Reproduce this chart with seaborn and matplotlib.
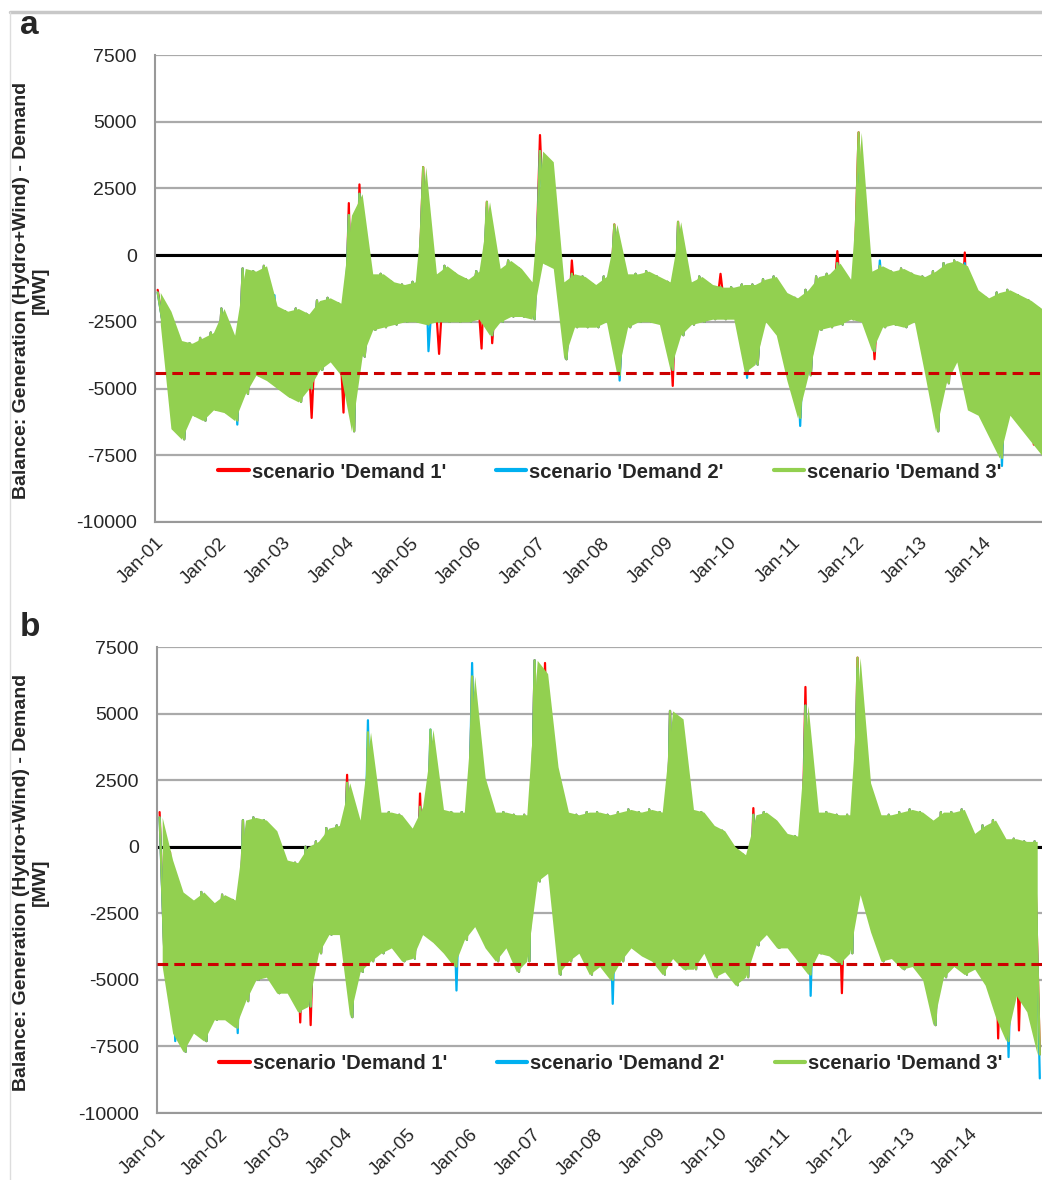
import numpy as np
import pandas as pd
import seaborn as sns
import matplotlib.pyplot as plt
from matplotlib.lines import Line2D

# Categories / labels
days = ['Jan-%02d' % d for d in range(1, 15)]
scenarios = ["scenario 'Demand 1'", "scenario 'Demand 2'", "scenario 'Demand 3'"]
colors = ['#ff0000', '#00b0f0', '#92d050']
threshold = -4420  # dashed red reference level [MW]

# Panel a: 4-hour envelopes (max / min within each block), MW
a_red_hi = [
    -1300, -2100, -3200, -3300, -3100, -2900,
    -2000, -3000, -500, -600, -400, -1900,
    -2100, -2000, -2200, -1700, -1600, -1800,
    1950, 2650, -700, -700, -1000, -1100,
    -1000, 3300, -700, -400, -700, -900,
    -600, 2000, -500, -200, -500, -1000,
    4500, 3500, -1000, -200, -800, -1100,
    -800, 1150, -700, -700, -600, -800,
    -1000, 1250, -1000, -800, -1100, -700,
    -1200, -1100, -1100, -900, -800, -1400,
    -1600, -1300, -800, -700, 150, -900,
    4600, -600, -400, -600, -500, -700,
    -800, -600, -300, -200, 100, -1300,
    -1600, -1400, -1300, -1500, -1700, -2000,
]
a_red_lo = [
    -2600, -6500, -6900, -6000, -6200, -5800,
    -5900, -6200, -5200, -4500, -4700, -5000,
    -5300, -5500, -6100, -4300, -4000, -5900,
    -6600, -3800, -2800, -2700, -2600, -2500,
    -2500, -2600, -3700, -2500, -2500, -2500,
    -3500, -3300, -2500, -2300, -2300, -2400,
    -300, -500, -3900, -2700, -2700, -2700,
    -2500, -4500, -2700, -2500, -2500, -2600,
    -4900, -3000, -2600, -2500, -2400, -2400,
    -2400, -4400, -4100, -2500, -3000, -4700,
    -6100, -4500, -2800, -2700, -2600, -2400,
    -2500, -3900, -2700, -2600, -2700, -2500,
    -4500, -6600, -4800, -4000, -5800, -6000,
    -6800, -7600, -6000, -6500, -7100, -7500,
]
a_blue_hi = [
    -1400, -2100, -3200, -3300, -3100, -2900,
    -2000, -3000, -500, -600, -400, -1500,
    -2100, -2000, -2200, -1700, -1600, -1800,
    1500, 2300, -700, -700, -1000, -1100,
    -1000, 3000, -700, -400, -700, -900,
    -600, 1800, -500, -200, -500, -1000,
    3900, 3500, -1000, -700, -800, -1100,
    -800, 1000, -700, -700, -600, -800,
    -1000, 1100, -1000, -800, -1100, -1200,
    -1200, -1100, -1100, -900, -800, -1400,
    -1600, -1300, -800, -700, -300, -900,
    3600, -600, -200, -600, -500, -700,
    -800, -600, -300, -200, -300, -1300,
    -1600, -1400, -1300, -1500, -1700, -2000,
]
a_blue_lo = [
    -2600, -6500, -6900, -6000, -6200, -5800,
    -5900, -6350, -5200, -4500, -4700, -5000,
    -5300, -5500, -5000, -4300, -4000, -4500,
    -6600, -3800, -2800, -2700, -2600, -2500,
    -2500, -3600, -2500, -2500, -2500, -2500,
    -2400, -3000, -2500, -2300, -2300, -2400,
    -300, -500, -3900, -2700, -2700, -2700,
    -2500, -4700, -2700, -2500, -2500, -2600,
    -4300, -3000, -2600, -2500, -2400, -2400,
    -2400, -4600, -4100, -2500, -3000, -4700,
    -6400, -4500, -2800, -2700, -2600, -2400,
    -2500, -3600, -2700, -2600, -2700, -2500,
    -4500, -6600, -4800, -4000, -5800, -6000,
    -6800, -7900, -6000, -6500, -7000, -8100,
]
a_green_hi = [
    -1400, -2100, -3200, -3300, -3100, -2900,
    -2000, -3000, -500, -600, -400, -1900,
    -2100, -2000, -2200, -1700, -1600, -1800,
    1500, 2300, -700, -700, -1000, -1100,
    -1000, 3300, -700, -400, -700, -900,
    -600, 2000, -500, -200, -500, -1000,
    3900, 3500, -1000, -700, -800, -1100,
    -800, 1150, -700, -700, -600, -800,
    -1000, 1250, -1000, -800, -1100, -1200,
    -1200, -1100, -1100, -900, -800, -1400,
    -1600, -1300, -800, -700, -300, -900,
    4600, -600, -400, -600, -500, -700,
    -800, -600, -300, -200, -400, -1300,
    -1600, -1400, -1300, -1500, -1700, -2000,
]
a_green_lo = [
    -2600, -6500, -6900, -6000, -6200, -5800,
    -5900, -6200, -5200, -4500, -4700, -5000,
    -5300, -5500, -5000, -4300, -4000, -4500,
    -6600, -3800, -2800, -2700, -2600, -2500,
    -2500, -2600, -2500, -2500, -2500, -2500,
    -2400, -3000, -2500, -2300, -2300, -2400,
    -300, -500, -3900, -2700, -2700, -2700,
    -2500, -4500, -2700, -2500, -2500, -2600,
    -4300, -3000, -2600, -2500, -2400, -2400,
    -2400, -4400, -4100, -2500, -3000, -4700,
    -6100, -4500, -2800, -2700, -2600, -2400,
    -2500, -3600, -2700, -2600, -2700, -2500,
    -4500, -6600, -4800, -4000, -5800, -6000,
    -6800, -7600, -6000, -6500, -7000, -7500,
]

# Panel b
b_red_hi = [
    1300, -200, -1700, -2000, -1700, -2100,
    -1800, -2000, 1000, 1100, 1000, 600,
    -500, -600, 0, 200, 700, 800,
    2700, 1000, 3700, 1300, 1300, 1200,
    700, 2000, 4100, 1400, 1300, 1300,
    6400, 2800, 1300, 1300, 1200, 1200,
    7000, 6900, 3000, 1300, 1200, 1300,
    1300, 1200, 1300, 1400, 1300, 1400,
    1300, 5100, 4100, 1400, 1300, 800,
    600, 0, -300, 1450, 1300, 1000,
    500, 400, 6000, 1300, 1300, 1200,
    1200, 7100, 2400, 1200, 1200, 1300,
    1400, 1300, 1000, 1300, 1300, 1400,
    500, 800, 1000, 300, 300, 200,
    200,
]
b_red_lo = [
    -4500, -7000, -7700, -7000, -7300, -6500,
    -6500, -6800, -5800, -5000, -4900, -5500,
    -5500, -6600, -6700, -4000, -3300, -3300,
    -6400, -4700, -4300, -4000, -3800, -4300,
    -4200, -3300, -3600, -4000, -4500, -3500,
    -3000, -3800, -4300, -3800, -4700, -4300,
    -1300, -1000, -4800, -4300, -4000, -4800,
    -4500, -5000, -4300, -3800, -4100, -4300,
    -4800, -4200, -4600, -4600, -4000, -4900,
    -4700, -5200, -4900, -3700, -3300, -3800,
    -3800, -4300, -4800, -4000, -4100, -5500,
    -4000, -1800, -3200, -4300, -4200, -4600,
    -4500, -5000, -6700, -4900, -4500, -4800,
    -4600, -5200, -7200, -7300, -6900, -6200,
    -7800,
]
b_blue_hi = [
    1100, -500, -1700, -2000, -1700, -2100,
    -1800, -2000, 1000, 1100, 1000, 600,
    -500, -600, 0, 200, 700, 800,
    2400, 1000, 4750, 1300, 1300, 1200,
    700, 1500, 4400, 1400, 1300, 1300,
    6900, 2600, 1300, 1300, 1200, 1200,
    7000, 6500, 3000, 1300, 1200, 1300,
    1300, 1200, 1300, 1400, 1300, 1400,
    1300, 5100, 4800, 1400, 1300, 800,
    600, 0, -300, 1200, 1300, 1000,
    500, 400, 5300, 1300, 1300, 1200,
    1200, 6700, 2800, 1200, 1200, 1300,
    1400, 1300, 1000, 1300, 1300, 1400,
    500, 800, 1000, 300, 300, 200,
    200,
]
b_blue_lo = [
    -4500, -7300, -7700, -7000, -7300, -6500,
    -6500, -7000, -5800, -5000, -4900, -5500,
    -5500, -6200, -6000, -4000, -3300, -3300,
    -6400, -4700, -4300, -4000, -3800, -4300,
    -4200, -3300, -3600, -4000, -5400, -3500,
    -3000, -3800, -4300, -3800, -4700, -4300,
    -1300, -1000, -4800, -4300, -4000, -4800,
    -4500, -5900, -4300, -3800, -4100, -4300,
    -4800, -4200, -4600, -4600, -4000, -4900,
    -4700, -5200, -4900, -3700, -3300, -3800,
    -3800, -4300, -5600, -4000, -4100, -4400,
    -4000, -1800, -3200, -4300, -4200, -4600,
    -4500, -5000, -6700, -4900, -4500, -4800,
    -4600, -5200, -6400, -7900, -5600, -6200,
    -8700,
]
b_green_hi = [
    1100, -500, -1700, -2000, -1700, -2100,
    -1800, -2000, 1000, 1100, 1000, 600,
    -500, -600, 0, 200, 700, 800,
    2400, 1000, 4300, 1300, 1300, 1200,
    700, 1500, 4400, 1400, 1300, 1300,
    6400, 2600, 1300, 1300, 1200, 1200,
    7000, 6500, 3000, 1300, 1200, 1300,
    1300, 1200, 1300, 1400, 1300, 1400,
    1300, 5100, 4800, 1400, 1300, 800,
    600, 0, -300, 1200, 1300, 1000,
    500, 400, 5300, 1300, 1300, 1200,
    1200, 7100, 2400, 1200, 1200, 1300,
    1400, 1300, 1000, 1300, 1300, 1400,
    500, 800, 1000, 300, 300, 200,
    200,
]
b_green_lo = [
    -4500, -7000, -7700, -7000, -7300, -6500,
    -6500, -6800, -5800, -5000, -4900, -5500,
    -5500, -6200, -6000, -4000, -3300, -3300,
    -6400, -4700, -4300, -4000, -3800, -4300,
    -4200, -3300, -3600, -4000, -4500, -3500,
    -3000, -3800, -4300, -3800, -4700, -4300,
    -1300, -1000, -4800, -4300, -4000, -4800,
    -4500, -5000, -4300, -3800, -4100, -4300,
    -4800, -4200, -4600, -4600, -4000, -4900,
    -4700, -5200, -4900, -3700, -3300, -3800,
    -3800, -4300, -4800, -4000, -4100, -4400,
    -4000, -1800, -3200, -4300, -4200, -4600,
    -4500, -5000, -6700, -4900, -4500, -4800,
    -4600, -5200, -6400, -7300, -5600, -6200,
    -7800,
]


def zigzag(hi, lo):
    # alternate block max / min so the line sweeps the hourly band
    x, y = [], []
    for k, (h, l) in enumerate(zip(hi, lo)):
        x += [k / 6 + 1 / 24, k / 6 + 3 / 24]
        y += [h, l]
    return x, y


def draw_panel(ax, series, xmax):
    frames = []
    for name, (hi, lo) in zip(scenarios, series):
        x, y = zigzag(hi, lo)
        frames.append(pd.DataFrame({'t': x, 'MW': y, 'scenario': name}))
    df = pd.concat(frames, ignore_index=True)
    sns.lineplot(data=df, x='t', y='MW', hue='scenario', hue_order=scenarios,
                 palette=dict(zip(scenarios, colors)), estimator=None,
                 lw=1.6, ax=ax)
    # red and blue only peek out where they leave the green band
    for ln, z in zip(ax.lines[:3], [1.6, 1.7, 2.0]):
        ln.set_zorder(z)
    g_hi, g_lo = series[2]
    xc = np.arange(len(g_hi)) / 6 + 1 / 12
    ax.fill_between(xc, g_lo, g_hi, color=colors[2], lw=0, zorder=1.8)

    ax.axhline(0, color='black', lw=2.2, zorder=1)
    ax.axhline(threshold, color='#cc0000', lw=2.2, ls=(0, (3.5, 2)), zorder=3)

    ax.set_xlim(0, xmax)
    ax.set_ylim(-10000, 7500)
    ax.set_yticks(np.arange(-10000, 7501, 2500))
    ax.set_xticks(range(len(days)))
    ax.set_xticklabels(days, rotation=45, ha='right', rotation_mode='anchor')
    ax.yaxis.grid(True, color='#aaaaaa', lw=1.6)
    ax.xaxis.grid(False)
    ax.set_axisbelow(True)
    ax.set_xlabel('')
    ax.set_ylabel('')
    sns.despine(ax=ax, top=True, right=True)
    for s in ['left', 'bottom']:
        ax.spines[s].set_color('#999999')
        ax.spines[s].set_linewidth(1.5)
    ax.tick_params(axis='both', direction='out', length=5, width=1.2,
                   color='#999999', pad=4)
    ax.tick_params(axis='y', labelsize=14, pad=8)
    ax.tick_params(axis='x', labelsize=13.5)

    sns.move_legend(ax, 'center', bbox_to_anchor=(0.513, 0.107), ncol=3,
                    frameon=False, title=None, prop={'size': 14.5, 'weight': 'bold'},
                    handlelength=1.5, handletextpad=0.15, columnspacing=2.5)
    for ln in ax.get_legend().get_lines():
        ln.set_linewidth(3)


sns.set_style('white')
plt.rcParams['font.family'] = ['Liberation Sans', 'DejaVu Sans']
plt.rcParams['axes.unicode_minus'] = False

W, H = 1042, 1180
fig = plt.figure(figsize=(W / 100, H / 100), dpi=100)
ax_a = fig.add_axes([155 / W, 1 - 522 / H, (W - 155) / W, 467 / H])
ax_b = fig.add_axes([157 / W, 1 - 1113 / H, (W - 157) / W, 466 / H])

draw_panel(ax_a, [(a_red_hi, a_red_lo), (a_blue_hi, a_blue_lo),
                  (a_green_hi, a_green_lo)], 13.92)
draw_panel(ax_b, [(b_red_hi, b_red_lo), (b_blue_hi, b_blue_lo),
                  (b_green_hi, b_green_lo)], 14.16)

ylabel = 'Balance: Generation (Hydro+Wind) - Demand\n[MW]'
for yc in [290, 882]:
    fig.text(31 / W, 1 - yc / H, ylabel, rotation=90, ha='center', va='center',
             multialignment='center', fontsize=14, fontweight='bold',
             linespacing=1.1)
fig.text(20 / W, 1 - 25 / H, 'a', fontsize=24, fontweight='bold', va='center')
fig.text(20 / W, 1 - 628 / H, 'b', fontsize=24, fontweight='bold', va='center')

# thin frame around the figure (top and left edges)
fig.add_artist(Line2D([10 / W, 1], [1 - 12 / H, 1 - 12 / H], color='#c8c8c8',
                      lw=2.5, transform=fig.transFigure))
fig.add_artist(Line2D([10 / W, 10 / W], [0, 1 - 12 / H], color='#dddddd',
                      lw=1, transform=fig.transFigure))

fig.savefig('out.png', dpi=100)
